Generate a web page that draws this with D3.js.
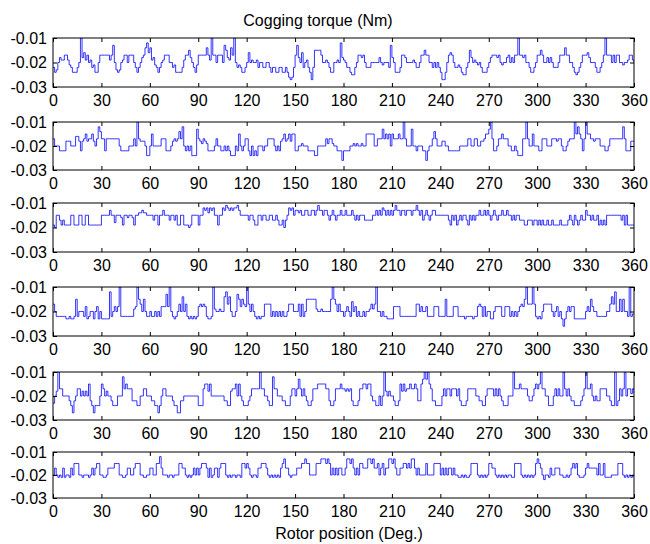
<!DOCTYPE html>
<html><head><meta charset="utf-8">
<script src="https://cdn.jsdelivr.net/npm/d3@7"></script>
<style>
body{margin:0;background:#fff}
svg{display:block}
text{font-family:"Liberation Sans",Arial,Helvetica,sans-serif;fill:#000}
</style></head>
<body><svg id="chart" width="650" height="544"></svg>
<script>
// ---- data (torque in mNm, sampled every 1 degree, 0..360) ----
const title = "Cogging torque (Nm)";
const xLabel = "Rotor position (Deg.)";
const xTicks = [0,30,60,90,120,150,180,210,240,270,300,330,360];
const yTicks = [-30,-20,-10];
const yTickLabels = ["-0.03","-0.02","-0.01"];
const xStepDeg = 1;

const torque1 = [
-22,-24,-23,-20,-18,-19,-19,-17,-17,-19,
-21,-22,-24,-24,-24,-22,-20,-10,-18,-16,
-19,-17,-20,-19,-22,-21,-24,-24,-20,-17,
-17,-17,-17,-17,-17,-19,-17,-13,-20,-23,
-24,-23,-20,-19,-17,-17,-20,-17,-17,-17,
-20,-22,-24,-22,-20,-18,-17,-14,-12,-16,
-14,-19,-18,-21,-22,-24,-22,-20,-19,-17,
-17,-17,-20,-20,-22,-21,-24,-24,-24,-24,
-22,-19,-17,-17,-15,-18,-20,-22,-24,-21,
-17,-17,-17,-17,-17,-14,-17,-19,-10,-17,
-17,-20,-17,-17,-17,-20,-13,-15,-18,-19,
-14,-17,-10,-20,-22,-21,-22,-24,-24,-22,
-20,-16,-20,-19,-20,-20,-19,-22,-20,-20,
-22,-22,-20,-20,-22,-24,-22,-22,-24,-24,
-22,-22,-24,-24,-22,-24,-26,-27,-26,-22,
-17,-13,-18,-20,-16,-22,-20,-19,-22,-24,
-27,-22,-15,-15,-15,-15,-17,-20,-20,-19,
-20,-22,-24,-24,-20,-20,-19,-20,-12,-18,
-19,-20,-22,-22,-24,-25,-25,-22,-20,-17,
-17,-18,-17,-20,-22,-22,-22,-20,-20,-20,
-20,-20,-18,-20,-21,-20,-20,-20,-22,-13,
-18,-20,-24,-24,-24,-22,-17,-17,-18,-20,
-20,-20,-20,-19,-20,-22,-22,-20,-17,-17,
-15,-17,-17,-20,-20,-22,-20,-22,-20,-22,
-24,-27,-27,-24,-20,-17,-16,-17,-20,-22,
-22,-21,-22,-24,-25,-25,-22,-20,-15,-18,
-20,-19,-20,-21,-20,-22,-24,-24,-24,-22,
-20,-18,-17,-17,-17,-18,-17,-20,-21,-20,
-20,-18,-17,-20,-18,-20,-17,-17,-10,-17,
-17,-18,-17,-20,-20,-22,-24,-24,-22,-20,
-17,-17,-15,-17,-20,-20,-18,-20,-18,-20,
-22,-22,-22,-20,-17,-17,-17,-14,-17,-17,
-20,-20,-22,-24,-25,-24,-22,-20,-17,-17,
-17,-16,-18,-20,-20,-20,-22,-24,-24,-22,
-20,-17,-10,-17,-17,-17,-20,-17,-20,-17,
-17,-20,-20,-21,-20,-20,-19,-17,-17,-19,
-20];

const torque2 = [
-17,-20,-20,-20,-22,-22,-22,-22,-18,-18,
-18,-20,-20,-20,-16,-16,-18,-22,-18,-17,
-15,-18,-17,-17,-15,-18,-20,-17,-12,-14,
-17,-17,-22,-17,-17,-17,-17,-17,-17,-17,
-17,-20,-22,-22,-22,-22,-22,-20,-20,-20,
-17,-20,-10,-17,-18,-18,-18,-20,-24,-24,
-20,-15,-20,-20,-20,-20,-20,-17,-17,-17,
-22,-22,-22,-20,-18,-17,-18,-17,-14,-17,
-12,-20,-22,-20,-22,-20,-24,-24,-24,-13,
-17,-18,-19,-17,-18,-19,-22,-22,-22,-22,
-20,-17,-20,-20,-22,-22,-20,-22,-20,-22,
-24,-24,-24,-20,-22,-15,-20,-22,-20,-17,
-17,-22,-24,-20,-24,-22,-24,-20,-20,-20,
-22,-20,-20,-17,-17,-17,-17,-20,-22,-20,
-22,-18,-17,-15,-18,-17,-15,-18,-15,-15,
-22,-22,-20,-20,-19,-20,-20,-20,-22,-22,
-22,-22,-24,-24,-20,-20,-20,-20,-20,-17,
-19,-17,-17,-19,-20,-20,-22,-22,-22,-26,
-22,-22,-22,-22,-20,-20,-19,-20,-19,-20,
-20,-19,-20,-20,-15,-15,-15,-15,-15,-20,
-20,-17,-17,-17,-13,-17,-15,-17,-15,-20,
-15,-17,-17,-17,-15,-17,-17,-10,-17,-20,
-20,-20,-13,-20,-20,-22,-20,-20,-20,-22,
-22,-26,-22,-20,-20,-17,-14,-17,-20,-20,
-20,-18,-18,-20,-20,-22,-22,-22,-22,-22,
-22,-22,-20,-20,-20,-20,-20,-17,-17,-20,
-20,-17,-17,-20,-20,-18,-18,-17,-15,-15,
-13,-10,-17,-22,-22,-20,-17,-17,-15,-17,
-17,-17,-20,-20,-22,-22,-20,-22,-24,-24,
-24,-17,-17,-10,-17,-20,-20,-15,-20,-20,
-20,-22,-22,-17,-17,-17,-20,-20,-20,-17,
-17,-17,-18,-17,-17,-20,-22,-22,-20,-18,
-17,-17,-17,-10,-15,-12,-15,-17,-22,-17,
-10,-15,-15,-17,-17,-18,-17,-17,-17,-20,
-20,-20,-22,-22,-20,-17,-17,-17,-17,-17,
-17,-17,-17,-12,-17,-22,-22,-22,-18,-18,
-18];

const torque3 = [
-19,-20,-15,-15,-17,-19,-17,-19,-19,-19,
-19,-15,-15,-19,-19,-19,-15,-15,-19,-19,
-15,-15,-19,-19,-19,-19,-19,-19,-19,-19,
-15,-15,-15,-15,-15,-13,-15,-15,-18,-15,
-15,-15,-16,-19,-15,-15,-16,-15,-15,-16,
-19,-15,-15,-14,-14,-13,-14,-14,-15,-15,
-15,-15,-17,-15,-15,-19,-15,-15,-13,-15,
-15,-15,-17,-15,-15,-17,-15,-19,-19,-15,
-15,-19,-19,-19,-20,-19,-15,-15,-15,-15,
-19,-15,-15,-12,-13,-12,-14,-12,-13,-12,
-15,-15,-19,-15,-15,-12,-13,-11,-12,-13,
-12,-13,-12,-12,-11,-13,-15,-15,-15,-15,
-15,-17,-15,-15,-17,-19,-19,-15,-15,-17,
-15,-15,-17,-17,-15,-15,-17,-17,-15,-17,
-19,-19,-17,-20,-17,-15,-12,-13,-12,-15,
-13,-13,-14,-13,-15,-15,-13,-13,-15,-15,
-13,-13,-15,-13,-11,-13,-13,-15,-13,-13,
-15,-17,-15,-13,-15,-17,-15,-15,-13,-15,
-15,-13,-15,-15,-15,-13,-15,-17,-15,-17,
-15,-15,-15,-17,-17,-17,-17,-17,-15,-15,
-13,-15,-13,-15,-12,-13,-15,-13,-15,-13,
-15,-13,-11,-13,-13,-15,-13,-13,-15,-13,
-13,-13,-15,-13,-13,-11,-13,-15,-13,-17,
-15,-13,-15,-17,-15,-13,-13,-15,-15,-15,
-15,-15,-15,-15,-15,-17,-19,-15,-17,-15,
-19,-17,-15,-17,-15,-15,-17,-19,-15,-17,
-15,-17,-15,-15,-13,-15,-15,-13,-15,-13,
-15,-17,-15,-13,-15,-17,-15,-15,-13,-15,
-15,-13,-15,-15,-17,-15,-17,-15,-15,-17,
-17,-17,-19,-19,-17,-17,-17,-19,-17,-17,
-19,-17,-19,-17,-19,-19,-17,-19,-19,-17,
-19,-19,-19,-19,-17,-19,-19,-19,-19,-17,
-15,-17,-19,-15,-17,-19,-17,-15,-17,-17,
-13,-15,-15,-17,-15,-17,-17,-15,-19,-17,
-19,-17,-19,-15,-15,-15,-15,-15,-15,-15,
-15,-15,-17,-15,-19,-15,-19,-19,-19,-19,
-19];

const torque4 = [
-17,-20,-22,-22,-22,-22,-22,-22,-23,-23,
-22,-23,-23,-22,-15,-22,-20,-20,-20,-22,
-18,-23,-22,-20,-20,-23,-20,-18,-23,-20,
-23,-23,-23,-23,-23,-12,-22,-20,-18,-20,
-18,-10,-22,-22,-22,-22,-22,-22,-22,-22,
-19,-18,-10,-15,-17,-20,-15,-20,-22,-22,
-20,-22,-22,-20,-22,-20,-22,-18,-18,-18,
-13,-18,-10,-20,-22,-23,-22,-20,-17,-20,
-14,-20,-17,-22,-23,-22,-23,-22,-23,-22,
-18,-17,-18,-17,-18,-22,-23,-23,-22,-10,
-19,-20,-20,-19,-20,-20,-14,-12,-17,-14,
-20,-22,-22,-20,-13,-15,-18,-15,-17,-18,
-10,-17,-20,-17,-20,-22,-23,-22,-23,-22,
-22,-17,-17,-17,-17,-22,-20,-22,-20,-22,
-20,-22,-20,-22,-22,-20,-17,-17,-17,-20,
-20,-20,-17,-22,-17,-22,-20,-15,-15,-15,
-15,-15,-15,-19,-20,-20,-19,-20,-20,-20,
-20,-20,-15,-10,-15,-17,-20,-17,-20,-20,
-22,-20,-18,-20,-22,-16,-20,-18,-22,-20,
-22,-22,-20,-22,-20,-20,-19,-17,-19,-17,
-10,-20,-20,-22,-20,-22,-22,-23,-23,-23,
-23,-18,-18,-18,-18,-22,-22,-22,-22,-22,
-22,-22,-22,-22,-22,-17,-17,-20,-18,-20,
-20,-18,-22,-22,-22,-22,-18,-18,-18,-22,
-22,-22,-22,-15,-22,-22,-22,-22,-18,-18,
-18,-22,-22,-22,-22,-23,-22,-22,-22,-22,
-23,-22,-22,-18,-17,-18,-22,-18,-22,-20,
-20,-23,-23,-20,-18,-18,-18,-18,-22,-22,
-18,-18,-18,-22,-20,-22,-20,-22,-20,-18,
-17,-18,-15,-10,-17,-17,-17,-10,-17,-22,
-23,-22,-23,-20,-17,-17,-17,-17,-17,-20,
-22,-20,-18,-22,-20,-23,-26,-23,-20,-18,
-20,-18,-18,-23,-23,-23,-23,-23,-23,-23,
-20,-18,-20,-15,-18,-20,-20,-22,-22,-22,
-22,-22,-22,-20,-20,-17,-14,-17,-12,-20,
-20,-15,-20,-15,-20,-20,-22,-10,-22,-21,
-21];

const torque5 = [
-23,-20,-18,-10,-17,-17,-20,-20,-20,-20,
-22,-24,-27,-22,-20,-17,-17,-20,-18,-20,
-18,-20,-15,-22,-24,-27,-24,-24,-24,-20,
-15,-17,-20,-18,-20,-20,-22,-24,-24,-24,
-20,-20,-20,-12,-17,-15,-17,-17,-17,-22,
-22,-22,-24,-24,-20,-20,-17,-17,-20,-20,
-20,-22,-22,-24,-24,-27,-24,-20,-17,-17,
-20,-20,-20,-20,-22,-24,-24,-27,-27,-22,
-22,-20,-20,-20,-20,-20,-20,-20,-20,-20,
-24,-24,-24,-17,-15,-15,-18,-15,-20,-20,
-20,-20,-20,-20,-20,-20,-22,-22,-24,-24,
-18,-17,-17,-15,-20,-15,-20,-22,-24,-24,
-24,-22,-20,-17,-17,-17,-17,-17,-10,-17,
-17,-20,-20,-22,-24,-24,-12,-17,-17,-20,
-20,-20,-22,-22,-24,-24,-24,-20,-17,-17,
-20,-17,-13,-17,-20,-17,-20,-22,-24,-24,
-22,-17,-17,-17,-15,-15,-15,-15,-15,-17,
-17,-22,-24,-24,-22,-17,-17,-17,-15,-17,
-17,-18,-17,-18,-17,-22,-24,-24,-24,-22,
-17,-17,-15,-15,-17,-15,-15,-20,-22,-22,
-24,-24,-20,-24,-20,-10,-18,-20,-18,-20,
-20,-22,-24,-24,-22,-15,-18,-15,-18,-17,
-17,-15,-17,-17,-15,-17,-22,-22,-15,-13,
-10,-13,-10,-15,-17,-22,-22,-24,-24,-24,
-24,-20,-17,-20,-17,-17,-20,-17,-17,-17,
-20,-17,-22,-24,-24,-24,-22,-17,-17,-17,
-17,-17,-20,-20,-22,-22,-24,-24,-20,-17,
-17,-17,-17,-20,-17,-20,-17,-20,-22,-24,
-24,-24,-20,-20,-20,-10,-17,-17,-17,-15,
-17,-17,-17,-17,-20,-22,-22,-20,-17,-15,
-17,-15,-10,-17,-17,-20,-20,-24,-24,-24,
-20,-17,-20,-17,-20,-20,-10,-17,-20,-17,
-20,-22,-22,-24,-24,-24,-24,-22,-20,-17,
-10,-17,-17,-15,-20,-22,-20,-22,-22,-17,
-17,-17,-17,-20,-20,-22,-24,-24,-10,-24,
-22,-17,-20,-17,-10,-20,-17,-17,-19,-17,
-19];

const torque6 = [
-20,-17,-20,-21,-20,-21,-17,-21,-20,-20,
-21,-17,-20,-15,-15,-15,-20,-20,-21,-20,
-20,-20,-21,-20,-17,-20,-17,-15,-15,-20,
-20,-21,-21,-20,-17,-17,-17,-17,-15,-15,
-15,-20,-20,-21,-21,-20,-17,-17,-20,-20,
-17,-15,-15,-15,-20,-20,-21,-21,-20,-20,
-17,-17,-20,-20,-15,-15,-12,-17,-20,-20,
-20,-21,-20,-20,-21,-20,-20,-20,-15,-15,
-17,-17,-20,-21,-20,-21,-20,-17,-20,-17,
-20,-17,-15,-15,-15,-17,-21,-17,-21,-20,
-17,-17,-21,-17,-15,-15,-15,-20,-21,-20,
-21,-20,-20,-21,-20,-20,-21,-15,-15,-17,
-15,-17,-20,-21,-20,-20,-21,-17,-17,-15,
-15,-15,-17,-20,-21,-20,-21,-20,-21,-20,
-21,-17,-15,-13,-17,-17,-20,-21,-20,-20,
-20,-17,-17,-17,-15,-15,-13,-15,-15,-20,
-20,-20,-20,-15,-15,-15,-13,-13,-13,-15,
-13,-15,-20,-17,-20,-17,-20,-17,-17,-20,
-20,-17,-13,-13,-15,-13,-17,-20,-17,-20,
-15,-15,-17,-17,-17,-13,-13,-15,-13,-17,
-17,-15,-20,-17,-15,-20,-17,-17,-13,-13,
-15,-13,-17,-20,-20,-17,-17,-15,-15,-17,
-15,-17,-13,-13,-17,-20,-17,-20,-20,-20,
-20,-15,-20,-20,-20,-20,-15,-15,-15,-15,
-20,-17,-20,-17,-20,-17,-17,-20,-17,-20,
-20,-21,-21,-20,-21,-20,-21,-21,-20,-15,
-15,-15,-15,-20,-21,-20,-21,-20,-21,-20,
-15,-15,-17,-17,-20,-21,-20,-21,-20,-21,
-20,-21,-20,-20,-21,-21,-15,-15,-15,-15,
-20,-21,-20,-21,-20,-21,-20,-21,-20,-15,
-13,-15,-17,-20,-22,-20,-20,-21,-17,-20,
-20,-17,-17,-17,-20,-20,-21,-21,-20,-21,
-20,-17,-15,-17,-15,-20,-21,-21,-21,-20,
-17,-15,-17,-17,-17,-17,-17,-20,-15,-20,
-20,-15,-21,-21,-21,-21,-20,-20,-20,-20,
-15,-15,-15,-20,-21,-20,-21,-20,-21,-20,
-21];

const seriesList = [torque1, torque2, torque3, torque4, torque5, torque6];

// ---- layout ----
const svg = d3.select("#chart");
const left = 53, right = 634;
const panels = [
  {top: 38, bottom: 87},
  {top: 122, bottom: 170},
  {top: 203, bottom: 252},
  {top: 287, bottom: 336},
  {top: 372, bottom: 420},
  {top: 452, bottom: 498}
];
const x = d3.scaleLinear().domain([0, 360]).range([left, right]);
const fontSize = 16;

svg.append("text").attr("x", 318).attr("y", 26).attr("text-anchor", "middle")
  .style("font-size", fontSize + "px").text(title);
svg.append("text").attr("x", 349).attr("y", 539).attr("text-anchor", "middle")
  .style("font-size", fontSize + "px").text(xLabel);

panels.forEach((p, i) => {
  const data = seriesList[i];
  const y = d3.scaleLinear().domain([-30, -10]).range([p.bottom, p.top]);
  const g = svg.append("g");
  const clipId = "clip" + i;
  g.append("clipPath").attr("id", clipId).append("rect")
    .attr("x", left).attr("y", p.top).attr("width", right - left).attr("height", p.bottom - p.top);

  const line = d3.line()
    .x((d, k) => x(k * xStepDeg))
    .y(d => y(d))
    .curve(d3.curveStepAfter);
  g.append("path").datum(data)
    .attr("clip-path", `url(#${clipId})`)
    .attr("fill", "none").attr("stroke", "#0000ff").attr("stroke-width", 0.8)
    .attr("d", line);

  // axes with inward ticks
  const ax = d3.axisBottom(x).tickValues(xTicks).tickSize(-4).tickPadding(8).tickFormat(d3.format("d"));
  const axB = g.append("g").attr("transform", `translate(0,${p.bottom})`).call(ax);
  const axT = g.append("g").attr("transform", `translate(0,${p.top})`)
    .call(d3.axisTop(x).tickValues(xTicks).tickSize(-4).tickFormat(""));
  const ay = d3.axisLeft(y).tickValues(yTicks).tickSize(-4).tickPadding(6)
    .tickFormat((d, k) => yTickLabels[k]);
  const axL = g.append("g").attr("transform", `translate(${left},0)`).call(ay);
  const axR = g.append("g").attr("transform", `translate(${right},0)`)
    .call(d3.axisRight(y).tickValues(yTicks).tickSize(-4).tickFormat(""));
  [axB, axT, axL, axR].forEach(a => {
    a.select(".domain").remove();
    a.selectAll("line").attr("stroke", "#000");
    a.selectAll("text").style("font-size", fontSize + "px")
      .style("font-family", '"Liberation Sans",Arial,sans-serif').attr("fill", "#000");
  });
  g.append("rect").attr("x", left).attr("y", p.top)
    .attr("width", right - left).attr("height", p.bottom - p.top)
    .attr("fill", "none").attr("stroke", "#000").attr("stroke-width", 1);
});
</script></body></html>
